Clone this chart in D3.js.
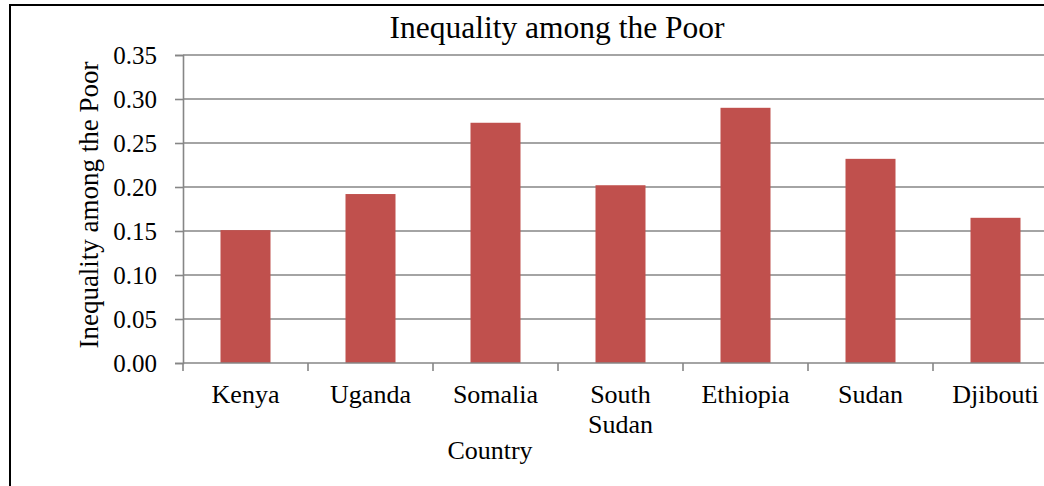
<!DOCTYPE html>
<html>
<head>
<meta charset="utf-8">
<script src="https://cdn.jsdelivr.net/npm/d3@7"></script>
<style>
  html, body { margin: 0; padding: 0; background: #fff; overflow: hidden; }
  svg { display: block; }
  svg text { font-family: "Liberation Serif", "DejaVu Serif", serif !important; fill: #000; }
</style>
</head>
<body>
<script>
// Inequality among the poor, by country
const countries = ["Kenya", "Uganda", "Somalia", "South Sudan", "Ethiopia", "Sudan", "Djibouti"];
const inequality = [0.151, 0.192, 0.273, 0.202, 0.290, 0.232, 0.165];
const yTicks = [0, 0.05, 0.10, 0.15, 0.20, 0.25, 0.30, 0.35];

const W = 1044, H = 486;
const svg = d3.select("body").append("svg").attr("width", W).attr("height", H);

// outer chart frame (runs past the right and bottom edges)
svg.append("rect")
  .attr("x", 10).attr("y", 5)
  .attr("width", 1100).attr("height", 520)
  .attr("fill", "#fff").attr("stroke", "#000").attr("stroke-width", 2);

const plot = { left: 183, right: 1058, top: 55, bottom: 363 };

const x = d3.scaleBand()
  .domain(countries)
  .range([plot.left, plot.right])
  .paddingInner(0.6)
  .paddingOuter(0.3);

const y = d3.scaleLinear()
  .domain([0, 0.35])
  .range([plot.bottom, plot.top]);

const gridColor = "#868686";

// horizontal gridlines
svg.append("g")
  .selectAll("line")
  .data(yTicks.filter(d => d > 0))
  .join("line")
  .attr("x1", plot.left).attr("x2", plot.right)
  .attr("y1", d => y(d)).attr("y2", d => y(d))
  .attr("stroke", gridColor).attr("stroke-width", 1.6);

// bars
svg.append("g")
  .selectAll("rect")
  .data(countries.map((c, i) => ({ c, v: inequality[i] })))
  .join("rect")
  .attr("x", d => x(d.c))
  .attr("width", x.bandwidth())
  .attr("y", d => y(d.v))
  .attr("height", d => y(0) - y(d.v))
  .attr("fill", "#C0504D");

// y axis
const yAxis = svg.append("g")
  .attr("transform", `translate(${plot.left},0)`)
  .call(d3.axisLeft(y).tickValues(yTicks).tickFormat(d3.format(".2f")).tickSize(8).tickPadding(18));
yAxis.attr("font-family", null).attr("font-size", null);
yAxis.select(".domain").attr("stroke", gridColor).attr("stroke-width", 1.6);
yAxis.selectAll(".tick line").attr("stroke", gridColor).attr("stroke-width", 1.6);
yAxis.selectAll(".tick text")
  .style("font-size", "25px")
  .attr("fill", "#000")
  .attr("dy", "0.33em");

// x axis with ticks between categories
const step = x.step();
const boundaries = d3.range(countries.length + 1).map(i => plot.left + i * step);
svg.append("line")
  .attr("x1", plot.left).attr("x2", plot.right)
  .attr("y1", plot.bottom).attr("y2", plot.bottom)
  .attr("stroke", gridColor).attr("stroke-width", 1.6);
svg.append("g")
  .selectAll("line")
  .data(boundaries)
  .join("line")
  .attr("x1", d => d).attr("x2", d => d)
  .attr("y1", plot.bottom).attr("y2", plot.bottom + 8)
  .attr("stroke", gridColor).attr("stroke-width", 1.6);

// category labels (wrapped onto lines)
const xl = svg.append("g")
  .selectAll("text")
  .data(countries)
  .join("text")
  .attr("x", d => x(d) + x.bandwidth() / 2)
  .attr("y", 403)
  .attr("text-anchor", "middle")
  .style("font-size", "26px");
xl.each(function(d) {
  const parts = d === "South Sudan" ? ["South", "Sudan"] : [d];
  const t = d3.select(this);
  parts.forEach((p, i) => {
    t.append("tspan")
      .attr("x", x(d) + x.bandwidth() / 2)
      .attr("dy", i === 0 ? 0 : 30)
      .text(p);
  });
});

// axis titles
svg.append("text")
  .attr("x", 490).attr("y", 459)
  .attr("text-anchor", "middle")
  .style("font-size", "26px")
  .text("Country");

svg.append("text")
  .attr("transform", "translate(98,205) rotate(-90)")
  .attr("text-anchor", "middle")
  .style("font-size", "27px")
  .text("Inequality among the Poor");

// chart title
svg.append("text")
  .attr("x", 557).attr("y", 38)
  .attr("text-anchor", "middle")
  .style("font-size", "31.5px")
  .text("Inequality among the Poor");
</script>
</body>
</html>
